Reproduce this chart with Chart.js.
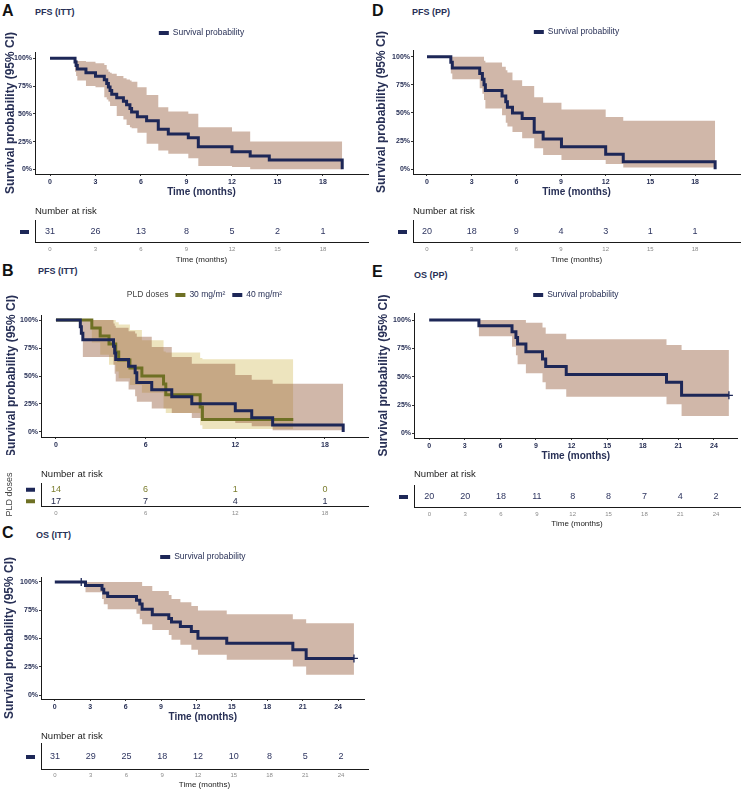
<!DOCTYPE html>
<html>
<head>
<meta charset="utf-8">
<script src="https://cdn.jsdelivr.net/npm/chart.js@4.4.1/dist/chart.umd.min.js"></script>
<style>
  body { margin: 0; background: #fff; width: 743px; height: 790px; position: relative; overflow: hidden;
         font-family: "Liberation Sans", Arial, sans-serif; }
  canvas { position: absolute; }
  .lab { position: absolute; font-weight: bold; line-height: 1; white-space: nowrap; }
  .letter { font-size: 16px; color: #111; }
  .ttl { font-size: 9px; color: #283056; }
</style>
</head>
<body>
<div class="lab letter" style="left:2px;top:3px">A</div>
<div class="lab ttl" style="left:35px;top:8px">PFS (ITT)</div>
<div class="lab letter" style="left:2px;top:263px">B</div>
<div class="lab ttl" style="left:38px;top:267px">PFS (ITT)</div>
<div class="lab letter" style="left:2px;top:525px">C</div>
<div class="lab ttl" style="left:36px;top:531px">OS (ITT)</div>
<div class="lab letter" style="left:372px;top:3px">D</div>
<div class="lab ttl" style="left:412px;top:8px">PFS (PP)</div>
<div class="lab letter" style="left:372px;top:264px">E</div>
<div class="lab ttl" style="left:414px;top:271px">OS (PP)</div>

<script>
const FONT = '"Liberation Sans", Arial, sans-serif';
const NAVY = '#1d2757';
const OLIVE = '#6e7024';
const TXT = '#283056';
const BAND = 'rgba(150,95,65,0.45)';
const BAND_OLIVE = 'rgba(215,195,110,0.45)';

// tick labels
const xTicks18 = [0, 3, 6, 9, 12, 15, 18];
const xTicks6 = [0, 6, 12, 18];
const xTicks24 = [0, 3, 6, 9, 12, 15, 18, 21, 24];
const yPct = [0, 25, 50, 75, 100];

// A: PFS (ITT), months / survival % / 95% CI
const tA  = [0, 1.65, 1.72, 1.8, 2.37, 3.0, 3.58, 3.74, 3.85, 3.96, 4.07, 4.4, 4.84, 5.05, 5.27, 5.38, 5.76, 6.37, 7.14, 7.8, 9.12, 9.78, 12.0, 13.2, 14.46, 19.27];
const sA  = [100, 96.8, 93.5, 90.3, 87.1, 83.9, 80.6, 77.4, 74.2, 71.0, 67.7, 64.5, 61.3, 58.1, 54.8, 51.6, 47.4, 43.8, 36.0, 31.8, 28.5, 20.4, 15.9, 12.0, 8.4, 0];
const upA = [100, 99, 98, 97.6, 97, 95.5, 94, 90, 88, 87, 86, 84, 82, 81, 80, 79, 74, 67, 56, 52, 50, 38, 34, 25, 25, 25];
const loA = [100, 88, 84, 80, 75, 74, 65, 63, 61, 57, 57, 48, 45, 40, 38, 37, 33, 23, 17, 14, 10, 3, 2, 0, 0, 0];
const nA  = [31, 26, 13, 8, 5, 2, 1];

// B: PFS (ITT) by PLD dose
const tB30  = [0, 2.4, 2.96, 3.55, 4.0, 4.2, 4.95, 5.75, 7.2, 7.35, 9.65, 9.8, 15.88];
const sB30  = [100, 92.9, 85.7, 78.6, 71.4, 64.3, 57.1, 50, 42.9, 33.3, 22.2, 11.1, 11.1];
const upB30 = [100, 100, 100, 100, 98, 96, 91, 82, 72, 71, 66, 65, 65];
const loB30 = [100, 80, 69, 60, 54, 48, 42, 35, 21, 17, 6, 2.7, 2.7];
const tB40  = [0, 1.63, 1.7, 1.8, 3.85, 3.93, 4.0, 4.86, 5.3, 5.41, 6.41, 7.75, 9.09, 12.0, 13.1, 14.5, 19.22];
const sB40  = [100, 94.1, 88.2, 82.4, 76.5, 70.6, 64.7, 58.8, 52.9, 44.1, 37.8, 31.5, 25.2, 18.9, 12.6, 6.3, 0];
const upB40 = [100, 100, 100, 100, 97, 95, 93, 90, 88, 85, 76, 67, 61, 51, 46.6, 43, 43];
const loB40 = [100, 92, 86, 67, 60, 52, 45, 38, 32, 27, 21, 17, 12.5, 8, 5, 1.5, 1.5];
const nB30 = [14, 6, 1, 0];
const nB40 = [17, 7, 4, 1];

// C: OS (ITT)
const tC  = [0, 2.6, 4.0, 4.15, 4.48, 6.92, 7.2, 7.4, 8.26, 9.66, 9.89, 10.64, 11.57, 12.13, 14.57, 20.17, 21.3, 25.35];
const sC  = [100, 96.8, 93.5, 90.3, 87.1, 83.9, 80.6, 75.9, 71, 67.7, 64.5, 60.6, 56.2, 50.3, 45.9, 40, 32.4, 32.4];
const upC = [100, 100, 100, 100, 100, 100, 100, 96.5, 92, 88.5, 85, 82, 78.8, 74.7, 71.5, 67, 63.5, 63.5];
const loC = [100, 90.9, 85, 80.3, 75.9, 71.8, 67, 62.6, 57.6, 53.2, 48.8, 44.4, 40, 35.6, 31.2, 25.3, 18, 18];
const cenTC = [2.24, 25.35];
const cenSC = [100, 32.4];
const nC  = [31, 29, 25, 18, 12, 10, 8, 5, 2];

// D: PFS (PP)
const tD  = [0, 1.6, 1.7, 3.54, 3.72, 3.83, 3.92, 5.04, 5.29, 5.4, 5.74, 6.39, 7.2, 7.8, 9.03, 12.0, 13.18, 19.35];
const sD  = [100, 95, 90, 85, 80, 75, 70, 65, 60, 55, 50, 45, 32.8, 26.8, 20.1, 13.4, 6.7, 0];
const upD = [100, 100, 100, 100, 100, 96.4, 94.7, 91, 88, 86, 79, 74, 64, 59, 53, 46.5, 43, 43];
const loD = [100, 85, 80, 72, 67, 61.5, 54, 48, 41.4, 38, 33, 27.5, 18.6, 12.7, 8.3, 4.7, 1.5, 1.5];
const nD  = [20, 18, 9, 4, 3, 1, 1];

// E: OS (PP)
const tE  = [0, 4.19, 6.98, 7.31, 7.45, 8.15, 9.55, 9.82, 11.55, 20.0, 21.27, 25.26];
const sE  = [100, 95, 89.7, 84.5, 78.9, 72, 65.7, 59, 52, 45, 33.6, 33.6];
const upE = [100, 100, 100, 100, 100, 97.6, 93.5, 88, 83, 78, 73.5, 73.5];
const loE = [100, 85.6, 76.5, 69, 61, 53, 45, 39, 32.4, 25.6, 15.3, 15.3];
const cenTE = [25.26];
const cenSE = [33.6];
const nE  = [20, 20, 18, 11, 8, 8, 7, 4, 2];

function pts(t, v) {
  return t.map((x, i) => ({ x: x, y: v[i] }));
}

function mkCanvas(box) {
  const c = document.createElement('canvas');
  c.width = box[2];
  c.height = box[3];
  c.style.left = box[0] + 'px';
  c.style.top = box[1] + 'px';
  c.style.width = box[2] + 'px';
  c.style.height = box[3] + 'px';
  document.body.appendChild(c);
  return c;
}

// legend, "Number at risk" and the at-risk counts
const kmText = {
  id: 'kmText',
  afterDraw(chart, args, o) {
    const ctx = chart.ctx;
    const a = chart.chartArea;
    ctx.save();
    ctx.textBaseline = 'middle';
    if (o.legend) {
      ctx.font = '8.5px ' + FONT;
      const items = o.legend.map(it => ({ text: it.text, color: it.color, textColor: it.textColor,
        tw: ctx.measureText(it.text).width }));
      let w = 0;
      items.forEach(it => { w += it.tw + (it.color ? 14 : 0); });
      w += (items.length - 1) * 7;
      let x = (a.left + a.right) / 2 - w / 2;
      const y = a.top - o.legendDy;
      items.forEach(it => {
        if (it.color) {
          ctx.fillStyle = it.color;
          ctx.fillRect(x, y - 2, 10, 4);
          x += 14;
        }
        ctx.fillStyle = it.textColor || TXT;
        ctx.textAlign = 'left';
        ctx.fillText(it.text, x, y);
        x += it.tw + 7;
      });
    }
    if (o.riskTitle) {
      ctx.font = '9.5px ' + FONT;
      ctx.fillStyle = '#222';
      ctx.textAlign = 'left';
      ctx.fillText(o.riskTitle, a.left, a.top - o.riskGap);
    }
    if (o.counts) {
      chart.data.datasets.forEach((d, i) => {
        const meta = chart.getDatasetMeta(i);
        ctx.font = '9px ' + FONT;
        ctx.textAlign = 'center';
        ctx.fillStyle = d.textColor;
        meta.data.forEach((el, j) => ctx.fillText(String(d.data[j].n), el.x, el.y + 1));
        ctx.fillStyle = d.markColor;
        ctx.fillRect(a.left - 15, meta.data[0].y - 1, 9, 4);
      });
    }
    ctx.restore();
  }
};
Chart.register(kmText);

function kmChart(c) {
  const ds = [];
  c.groups.forEach(g => {
    ds.push({ data: pts(g.t, g.up), stepped: true, fill: '+1', backgroundColor: g.band,
              borderColor: 'transparent', borderWidth: 0, pointRadius: 0, order: g.bandOrder });
    ds.push({ data: pts(g.t, g.lo), stepped: true, fill: false,
              borderColor: 'transparent', borderWidth: 0, pointRadius: 0, order: g.bandOrder });
  });
  c.groups.forEach(g => {
    ds.push({ data: pts(g.t, g.s), stepped: true, fill: false, borderColor: g.color, borderWidth: 3,
              borderCapStyle: 'butt', pointRadius: 0, order: g.lineOrder });
    if (g.cenT) {
      ds.push({ data: pts(g.cenT, g.cenS), showLine: false, pointStyle: 'cross', pointRadius: 4,
                borderColor: g.color, borderWidth: 1.3, order: 0 });
    }
  });
  new Chart(mkCanvas(c.box), {
    type: 'line',
    data: { datasets: ds },
    options: {
      responsive: false, animation: false, devicePixelRatio: 1, events: [],
      layout: { padding: { top: c.padTop, right: c.padRight, left: 0, bottom: 0 } },
      plugins: {
        legend: { display: false }, tooltip: { enabled: false },
        kmText: { legend: c.legend, legendDy: c.legendDy }
      },
      scales: {
        x: {
          type: 'linear', min: c.xmin, max: c.xmax,
          afterBuildTicks: s => { s.ticks = c.xticks.map(v => ({ value: v })); },
          afterFit: s => { s.height = c.xh; },
          grid: { display: true, drawOnChartArea: false, drawTicks: true, tickLength: 2, color: '#333' },
          border: { display: true, color: '#1a1a1a', width: 1 },
          ticks: { font: { family: FONT, size: 7, weight: 'bold' }, color: TXT, padding: 2, maxRotation: 0, autoSkip: false },
          title: { display: c.xtitle, text: 'Time (months)', color: TXT,
                   font: { family: FONT, size: 10, weight: 'bold' }, padding: { top: 0, bottom: c.xtPad } }
        },
        y: {
          type: 'linear', min: c.ymin, max: c.ymax,
          afterBuildTicks: s => { s.ticks = yPct.map(v => ({ value: v })); },
          afterFit: s => { s.width = c.yw; },
          grid: { display: true, drawOnChartArea: false, drawTicks: true, tickLength: 2, color: '#333' },
          border: { display: true, color: '#1a1a1a', width: 1 },
          ticks: { font: { family: FONT, size: 7, weight: 'bold' }, color: TXT, padding: 1, callback: v => v + '%' },
          title: { display: true, text: 'Survival probability (95% CI)', color: TXT,
                   font: { family: FONT, size: 12, weight: 'bold' }, padding: { top: c.ytPad, bottom: 0 } }
        }
      }
    }
  });
}

function riskChart(c) {
  const labels = c.rows.map((r, i) => 'row' + i);
  const ds = c.rows.map((r, i) => ({
    data: c.t.map((t, j) => ({ x: t, y: labels[i], n: r.n[j] })),
    pointRadius: 0, textColor: r.textColor, markColor: r.markColor
  }));
  new Chart(mkCanvas(c.box), {
    type: 'scatter',
    data: { datasets: ds },
    options: {
      responsive: false, animation: false, devicePixelRatio: 1, events: [],
      layout: { padding: { top: c.padTop, right: c.padRight, left: 0, bottom: 0 } },
      plugins: {
        legend: { display: false }, tooltip: { enabled: false },
        kmText: { riskTitle: 'Number at risk', riskGap: c.gap, counts: true }
      },
      scales: {
        x: {
          type: 'linear', min: c.xmin, max: c.xmax,
          afterBuildTicks: s => { s.ticks = c.t.map(v => ({ value: v })); },
          afterFit: s => { s.height = c.xh; },
          grid: { display: false, drawTicks: false },
          border: { display: true, color: '#1a1a1a', width: 1 },
          ticks: { font: { family: FONT, size: 6 }, color: '#8a8a8a', padding: c.tickPad, maxRotation: 0, autoSkip: false },
          title: { display: c.xtitle, text: 'Time (months)', color: '#222',
                   font: { family: FONT, size: 8 }, padding: { top: 0, bottom: c.xtPad } }
        },
        y: {
          type: 'category', labels: labels, offset: true,
          afterFit: s => { s.width = c.yw; },
          grid: { display: false, drawTicks: false },
          border: { display: true, color: '#1a1a1a', width: 1 },
          ticks: { display: false },
          title: { display: !!c.ytitle, text: c.ytitle || '', color: '#444',
                   font: { family: FONT, size: 9 }, padding: { top: 4.6, bottom: 0 } }
        }
      }
    }
  });
}

const survLegend = [{ text: 'Survival probability', color: NAVY }];

// A
kmChart({ box: [0, 20, 370, 182], padTop: 32, padRight: 2, yw: 35, xh: 28,
  xmin: -0.99, xmax: 20.97, ymin: -4.2, ymax: 105.7, xticks: xTicks18, xtitle: true, xtPad: 4, ytPad: 3,
  legend: survLegend, legendDy: 19,
  groups: [{ t: tA, s: sA, up: upA, lo: loA, color: NAVY, band: BAND, bandOrder: 4, lineOrder: 1 }] });
riskChart({ box: [0, 200, 370, 68], padTop: 20, padRight: 2, yw: 35, xh: 26, xmin: -0.99, xmax: 20.97,
  t: xTicks18, xtitle: true, xtPad: 3, tickPad: 3.4, gap: 9,
  rows: [{ n: nA, textColor: '#2e3560', markColor: NAVY }] });

// B
kmChart({ box: [0, 280, 370, 175], padTop: 35, padRight: 2, yw: 41, xh: 18,
  xmin: -1.0, xmax: 20.88, ymin: -4.5, ymax: 104.5, xticks: xTicks6, xtitle: false, xtPad: 0, ytPad: 4,
  legend: [{ text: 'PLD doses', textColor: '#444' }, { text: '30 mg/m²', color: OLIVE }, { text: '40 mg/m²', color: NAVY }],
  legendDy: 20,
  groups: [
    { t: tB30, s: sB30, up: upB30, lo: loB30, color: OLIVE, band: BAND_OLIVE, bandOrder: 5, lineOrder: 2 },
    { t: tB40, s: sB40, up: upB40, lo: loB40, color: NAVY, band: BAND, bandOrder: 4, lineOrder: 1 }
  ] });
riskChart({ box: [0, 462, 370, 60], padTop: 21, padRight: 2, yw: 41, xh: 16, xmin: -1.0, xmax: 20.88,
  t: xTicks6, xtitle: false, xtPad: 0, tickPad: 3.4, gap: 9, ytitle: 'PLD doses',
  rows: [{ n: nB30, textColor: '#7b7d2e', markColor: NAVY }, { n: nB40, textColor: '#1f2648', markColor: OLIVE }] });

// C
kmChart({ box: [0, 540, 370, 185], padTop: 37, padRight: 2, yw: 41, xh: 26,
  xmin: -1.17, xmax: 26.26, ymin: -3.5, ymax: 104.4, xticks: xTicks24, xtitle: true, xtPad: 2, ytPad: 2,
  legend: survLegend, legendDy: 20,
  groups: [{ t: tC, s: sC, up: upC, lo: loC, cenT: cenTC, cenS: cenSC, color: NAVY, band: BAND, bandOrder: 4, lineOrder: 1 }] });
riskChart({ box: [0, 725, 370, 65], padTop: 18, padRight: 2, yw: 41, xh: 21, xmin: -1.17, xmax: 26.26,
  t: xTicks24, xtitle: true, xtPad: 0.2, tickPad: 2.4, gap: 7,
  rows: [{ n: nC, textColor: '#2e3560', markColor: NAVY }] });

// D
kmChart({ box: [370, 20, 373, 182], padTop: 30, padRight: 3, yw: 43, xh: 28,
  xmin: -0.94, xmax: 21.02, ymin: -4.2, ymax: 105.9, xticks: xTicks18, xtitle: true, xtPad: 4, ytPad: 4,
  legend: survLegend, legendDy: 18,
  groups: [{ t: tD, s: sD, up: upD, lo: loD, color: NAVY, band: BAND, bandOrder: 4, lineOrder: 1 }] });
riskChart({ box: [370, 200, 373, 68], padTop: 20, padRight: 3, yw: 43, xh: 26, xmin: -0.94, xmax: 21.02,
  t: xTicks18, xtitle: true, xtPad: 3, tickPad: 3.4, gap: 9,
  rows: [{ n: nD, textColor: '#2e3560', markColor: NAVY }] });

// E
kmChart({ box: [370, 285, 373, 181], padTop: 28, padRight: 3, yw: 44, xh: 28,
  xmin: -1.28, xmax: 26.0, ymin: -4.1, ymax: 106.2, xticks: xTicks24, xtitle: true, xtPad: 4, ytPad: 6,
  legend: survLegend, legendDy: 18,
  groups: [{ t: tE, s: sE, up: upE, lo: loE, cenT: cenTE, cenS: cenSE, color: NAVY, band: BAND, bandOrder: 4, lineOrder: 1 }] });
riskChart({ box: [370, 462, 373, 68], padTop: 23, padRight: 3, yw: 44, xh: 23, xmin: -1.28, xmax: 26.0,
  t: xTicks24, xtitle: true, xtPad: 1.2, tickPad: 3.4, gap: 11,
  rows: [{ n: nE, textColor: '#2e3560', markColor: NAVY }] });
</script>
</body>
</html>
